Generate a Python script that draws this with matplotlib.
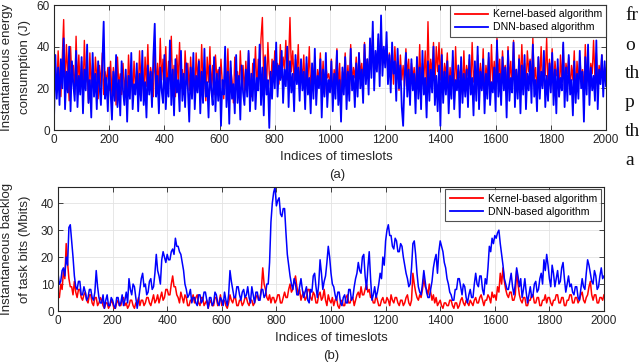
import numpy as np
import matplotlib
matplotlib.use("Agg")
import matplotlib.pyplot as plt

plt.rcParams['font.family'] = ['Liberation Sans', 'DejaVu Sans']

# (a) instantaneous energy consumption (J), one value every 5 timeslots
energy_kernel = [
    22, 30, 18, 38, 25, 16, 34, 53, 20, 41, 27, 14, 40, 24, 31, 17, 45, 21, 36, 19,
    33, 16, 43, 23, 29, 13, 37, 20, 32, 18, 35, 25, 15, 31, 21, 37, 17, 28, 23, 30,
    19, 33, 16, 30, 24, 12, 35, 21, 27, 17, 32, 19, 26, 14, 36, 22, 30, 16, 33, 20,
    28, 18, 38, 23, 31, 15, 35, 21, 41, 19, 30, 25, 16, 37, 22, 32, 20, 44, 24, 34,
    21, 40, 18, 33, 26, 45, 19, 31, 16, 36, 23, 42, 20, 29, 17, 38, 25, 32, 19, 35,
    22, 30, 15, 37, 24, 34, 18, 41, 21, 28, 14, 35, 23, 40, 19, 31, 17, 36, 25, 29,
    19, 34, 22, 15, 32, 20, 39, 17, 30, 24, 13, 35, 21, 28, 16, 38, 23, 31, 18, 33,
    20, 37, 25, 16, 32, 22, 40, 19, 34, 26, 44, 54, 23, 36, 19, 42, 27, 21, 34, 24,
    38, 27, 32, 22, 41, 25, 35, 29, 43, 24, 33, 54, 28, 38, 23, 34, 26, 41, 21, 31,
    25, 36, 19, 32, 24, 40, 18, 30, 22, 35, 16, 29, 23, 37, 20, 33, 17, 31, 25, 27,
    21, 34, 15, 29, 23, 39, 19, 32, 13, 28, 24, 37, 20, 31, 17, 41, 22, 30, 25, 35,
    20, 37, 27, 32, 23, 42, 28, 34, 24, 40, 30, 47, 26, 36, 32, 44, 27, 46, 31, 38,
    33, 41, 25, 37, 30, 35, 22, 40, 27, 33, 19, 36, 24, 31, 21, 39, 26, 34, 18, 32,
    24, 30, 17, 35, 22, 41, 19, 32, 25, 38, 18, 52, 23, 34, 27, 42, 21, 40, 28, 42,
    24, 39, 20, 32, 26, 37, 18, 30, 23, 35, 16, 40, 22, 29, 25, 33, 17, 38, 21, 31,
    26, 34, 19, 42, 23, 30, 17, 36, 24, 32, 20, 39, 16, 31, 25, 35, 18, 41, 23, 33,
    21, 44, 25, 34, 19, 38, 27, 31, 17, 40, 24, 33, 20, 43, 26, 29, 18, 36, 23, 41,
    25, 32, 19, 38, 28, 34, 22, 44, 24, 30, 18, 35, 23, 40, 21, 31, 26, 44, 20, 34,
    24, 39, 18, 33, 26, 30, 16, 36, 23, 41, 20, 32, 27, 35, 19, 31, 24, 38, 17, 33,
    22, 35, 25, 29, 18, 41, 23, 34, 21, 32, 27, 43, 24, 37, 20, 31, 26, 36, 22, 30,
    25,
]
energy_dnn = [
    5, 36, 15, 30, 12, 34, 20, 44, 10, 28, 18, 40, 9, 33, 22, 14, 38, 11, 26, 17,
    35, 8, 29, 19, 41, 13, 24, 6, 37, 16, 27, 10, 33, 21, 12, 31, 52, 15, 25, 9,
    30, 18, 5, 28, 14, 36, 11, 24, 7, 33, 19, 12, 29, 4, 26, 15, 37, 10, 22, 17,
    32, 9, 27, 14, 38, 12, 23, 6, 31, 17, 28, 11, 35, 51, 16, 26, 8, 30, 19, 13,
    36, 10, 25, 16, 43, 12, 29, 7, 34, 18, 24, 9, 38, 14, 27, 11, 32, 20, 4, 30,
    15, 37, 10, 26, 18, 33, 8, 28, 13, 39, 16, 23, 6, 31, 19, 12, 35, 9, 27, 14,
    30, 2, 24, 17, 40, 11, 28, 3, 33, 15, 22, 8, 36, 13, 26, 5, 31, 18, 12, 29,
    16, 38, 9, 27, 14, 34, 10, 25, 19, 41, 12, 30, 7, 35, 17, 24, 1, 28, 15, 33,
    20, 42, 16, 31, 24, 38, 13, 29, 21, 40, 11, 33, 18, 27, 9, 36, 22, 30, 14, 34,
    19, 28, 10, 35, 17, 25, 8, 32, 15, 39, 12, 26, 20, 34, 6, 29, 16, 37, 11, 24,
    18, 33, 9, 27, 15, 38, 12, 24, 4, 30, 17, 35, 10, 28, 14, 39, 19, 26, 11, 32,
    16, 37, 20, 29, 13, 41, 22, 34, 17, 44, 25, 52, 19, 38, 28, 46, 21, 55, 26, 40,
    30, 47, 22, 36, 18, 42, 27, 33, 14, 39, 20, 31, 11, 2, 24, 37, 16, 29, 12, 34,
    19, 27, 8, 35, 15, 30, 10, 38, 17, 25, 6, 33, 14, 29, 18, 40, 12, 26, 9, 31,
    2, 36, 13, 28, 17, 33, 8, 26, 15, 38, 10, 24, 19, 31, 6, 35, 13, 27, 16, 29,
    11, 36, 17, 25, 7, 33, 14, 40, 10, 28, 19, 34, 8, 27, 15, 37, 12, 23, 18, 30,
    9, 43, 16, 27, 12, 35, 19, 30, 6, 38, 14, 25, 18, 42, 11, 29, 15, 34, 8, 31,
    17, 36, 10, 27, 19, 33, 13, 41, 16, 24, 9, 35, 15, 28, 20, 38, 11, 26, 14, 32,
    18, 37, 12, 29, 8, 34, 16, 25, 19, 42, 11, 30, 14, 36, 17, 24, 7, 33, 13, 27,
    15, 38, 20, 28, 4, 35, 17, 41, 12, 30, 19, 26, 14, 43, 10, 29, 22, 36, 16, 33,
    21,
]

# (b) instantaneous backlog of task bits (Mbits), one value every 5 timeslots
backlog_kernel = [
    7, 5, 10, 8, 15, 12, 25, 18, 12, 9, 9, 6, 11, 7, 5, 8, 8, 5, 4, 6,
    7, 4, 3, 6, 6, 3, 2, 5, 5, 2, 3, 5, 4, 2, 1, 3, 3, 1, 2, 4,
    3, 1, 1, 3, 4, 2, 2, 4, 5, 2, 3, 1, 2, 4, 4, 2, 1, 3, 3, 5,
    2, 4, 4, 2, 3, 5, 5, 3, 2, 4, 6, 3, 4, 6, 3, 5, 7, 4, 5, 8,
    8, 6, 6, 10, 13, 9, 9, 6, 5, 3, 7, 5, 3, 6, 5, 2, 2, 4, 4, 6,
    3, 5, 6, 3, 2, 5, 5, 2, 3, 4, 1, 3, 4, 2, 2, 5, 5, 2, 3, 6,
    2, 4, 4, 2, 1, 3, 6, 4, 3, 5, 5, 2, 2, 4, 4, 2, 3, 5, 5, 3,
    2, 4, 4, 2, 3, 5, 6, 4, 5, 8, 16, 10, 8, 5, 4, 6, 3, 5, 5, 3,
    4, 6, 6, 3, 3, 5, 7, 5, 5, 8, 10, 7, 8, 11, 13, 9, 6, 8, 4, 6,
    7, 4, 5, 8, 8, 5, 4, 7, 6, 3, 3, 6, 7, 4, 5, 8, 4, 2, 6, 4,
    3, 5, 2, 4, 5, 2, 1, 3, 4, 2, 2, 5, 6, 3, 3, 5, 5, 2, 4, 6,
    7, 5, 9, 6, 6, 8, 10, 7, 8, 5, 5, 3, 3, 6, 4, 2, 2, 4, 5, 3,
    3, 5, 4, 2, 6, 4, 3, 5, 5, 3, 2, 4, 4, 2, 3, 5, 6, 3, 2, 4,
    14, 10, 7, 5, 4, 6, 5, 8, 12, 9, 8, 6, 10, 7, 4, 6, 3, 5, 2, 3,
    4, 2, 1, 3, 3, 2, 2, 4, 4, 2, 1, 3, 3, 1, 2, 4, 5, 3, 2, 4,
    3, 2, 4, 3, 2, 4, 5, 3, 3, 5, 6, 4, 2, 4, 4, 6, 5, 3, 7, 5,
    6, 4, 9, 7, 14, 10, 16, 11, 8, 6, 5, 7, 7, 4, 4, 6, 15, 10, 6, 4,
    3, 5, 5, 2, 2, 4, 4, 6, 6, 3, 3, 5, 5, 2, 2, 4, 4, 6, 3, 5,
    5, 3, 2, 4, 4, 6, 6, 3, 3, 5, 5, 2, 2, 4, 4, 6, 6, 3, 3, 5,
    5, 3, 4, 6, 7, 4, 3, 5, 6, 9, 11, 6, 4, 6, 6, 3, 3, 5, 5, 4,
    6,
]
backlog_dnn = [
    14, 10, 11, 15, 16, 13, 20, 17, 31, 32, 26, 20, 13, 9, 8, 11, 11, 6, 6, 9,
    7, 4, 5, 8, 8, 5, 4, 7, 15, 9, 5, 3, 3, 6, 1, 4, 6, 2, 2, 5,
    4, 2, 1, 5, 5, 2, 3, 6, 2, 4, 7, 3, 12, 8, 6, 10, 9, 5, 1, 4,
    8, 12, 14, 9, 10, 6, 7, 11, 12, 8, 9, 14, 21, 15, 13, 10, 19, 22, 20, 18,
    21, 19, 19, 22, 23, 21, 27, 24, 24, 22, 21, 18, 15, 10, 8, 5, 6, 8, 3, 5,
    5, 3, 2, 6, 6, 3, 4, 7, 7, 4, 1, 5, 5, 2, 3, 7, 6, 3, 2, 5,
    4, 2, 7, 4, 2, 6, 15, 11, 8, 5, 5, 9, 9, 6, 4, 7, 8, 5, 6, 9,
    5, 3, 9, 6, 3, 7, 7, 4, 4, 8, 8, 5, 6, 10, 10, 18, 33, 40, 44, 46,
    39, 41, 42, 36, 35, 38, 38, 29, 21, 17, 13, 10, 8, 12, 10, 6, 6, 9, 12, 8,
    5, 7, 9, 4, 3, 8, 7, 13, 14, 9, 5, 10, 19, 14, 8, 11, 13, 18, 24, 20,
    14, 10, 9, 6, 4, 7, 7, 3, 2, 5, 6, 3, 3, 8, 8, 4, 5, 9, 12, 14,
    18, 15, 14, 20, 21, 13, 8, 16, 22, 12, 4, 6, 9, 5, 7, 10, 14, 12, 20, 17,
    26, 30, 32, 28, 28, 24, 23, 27, 26, 22, 22, 25, 24, 20, 17, 14, 12, 9, 10, 16,
    25, 26, 21, 14, 9, 7, 6, 10, 15, 11, 7, 5, 5, 8, 11, 16, 19, 21, 14, 22,
    26, 24, 22, 18, 16, 12, 10, 7, 6, 4, 4, 8, 8, 12, 12, 9, 6, 10, 9, 5,
    3, 6, 8, 5, 5, 10, 14, 10, 9, 13, 13, 8, 6, 12, 10, 16, 24, 22, 27, 25,
    28, 27, 29, 30, 25, 21, 17, 12, 10, 8, 8, 11, 14, 9, 6, 10, 16, 13, 9, 12,
    5, 8, 12, 7, 3, 6, 9, 5, 6, 10, 11, 7, 8, 12, 14, 10, 19, 15, 21, 17,
    12, 9, 17, 14, 9, 12, 15, 10, 11, 16, 18, 12, 7, 10, 13, 9, 10, 7, 6, 9,
    9, 5, 4, 8, 12, 9, 8, 14, 19, 17, 14, 11, 10, 15, 13, 8, 9, 13, 16, 12,
    13,
]

labels = ["Kernel-based algorithm", "DNN-based algorithm"]
xticks = np.arange(0, 2001, 200)
n_slots = 2000

dark = "#262626"
fig = plt.figure(figsize=(6.4, 3.63), dpi=100)


def style_axes(ax, ymax, yticks):
    ax.set_xlim(0, n_slots)
    ax.set_ylim(0, ymax)
    ax.set_xticks(xticks)
    ax.set_yticks(yticks)
    ax.grid(True, color="#e3e3e3", linewidth=0.6)
    ax.set_axisbelow(True)
    ax.tick_params(direction="in", top=True, right=True, length=3.5,
                   width=0.6, color=dark, labelcolor=dark, labelsize=8.5, pad=3)
    for s in ax.spines.values():
        s.set_color(dark)
        s.set_linewidth(0.8)


def add_legend(ax, anchor):
    leg = ax.legend(loc="upper right", fontsize=7.6, handlelength=3.2,
                    bbox_to_anchor=anchor, borderaxespad=0.0, frameon=True,
                    fancybox=False, handletextpad=0.4, borderpad=0.4,
                    labelspacing=0.3)
    leg.get_frame().set_edgecolor(dark)
    leg.get_frame().set_linewidth(0.8)
    for line in leg.get_lines():
        line.set_linewidth(1.3)


# top panel
ax1 = fig.add_axes([54 / 640, 1 - 130 / 363, 552 / 640, 125 / 363])
t1 = np.linspace(0, n_slots, len(energy_kernel))
ax1.plot(t1, energy_kernel, color="#ff0000", lw=1.0, label=labels[0])
ax1.plot(t1, energy_dnn, color="#0000ff", lw=1.3, label=labels[1])
style_axes(ax1, 60, [0, 20, 40, 60])
add_legend(ax1, (1.0, 1.0))

# bottom panel
ax2 = fig.add_axes([58 / 640, 1 - 311 / 363, 546 / 640, 124 / 363])
t2 = np.linspace(0, n_slots, len(backlog_kernel))
ax2.plot(t2, backlog_kernel, color="#ff0000", lw=1.1, label=labels[0])
ax2.plot(t2, backlog_dnn, color="#0000ff", lw=1.1, label=labels[1])
style_axes(ax2, 46, [0, 10, 20, 30, 40])
add_legend(ax2, (0.9945, 0.98))

# axis labels and captions
fs = 9.5
fig.text(336 / 640, 1 - 157 / 363, "Indices of timeslots", ha="center",
         va="center", fontsize=fs, color=dark)
fig.text(337 / 640, 1 - 175 / 363, "(a)", ha="center", va="center",
         fontsize=fs, color=dark)
fig.text(7 / 640, 1 - 67 / 363, "Instantaneous energy", rotation=90,
         ha="center", va="center", fontsize=fs, color=dark)
fig.text(25 / 640, 1 - 67 / 363, "consumption (J)", rotation=90,
         ha="center", va="center", fontsize=fs, color=dark)

fig.text(331 / 640, 1 - 338 / 363, "Indices of timeslots", ha="center",
         va="center", fontsize=fs, color=dark)
fig.text(331 / 640, 1 - 356 / 363, "(b)", ha="center", va="center",
         fontsize=fs, color=dark)
fig.text(7 / 640, 1 - 249 / 363, "Instantaneous backlog", rotation=90,
         ha="center", va="center", fontsize=fs, color=dark)
fig.text(25 / 640, 1 - 249 / 363, "of task bits (Mbits)", rotation=90,
         ha="center", va="center", fontsize=fs, color=dark)

# body text of the page, cut by the right edge
side_words = ["fr", "o", "th", "p", "th", "a"]
side_base = [20, 50, 78, 107, 136, 165]
for w, yb in zip(side_words, side_base):
    fig.text(625 / 640, 1 - yb / 363, w, ha="left", va="baseline",
             fontsize=14, family="Liberation Serif", color="#111111")

fig.savefig("out.png", dpi=100)
